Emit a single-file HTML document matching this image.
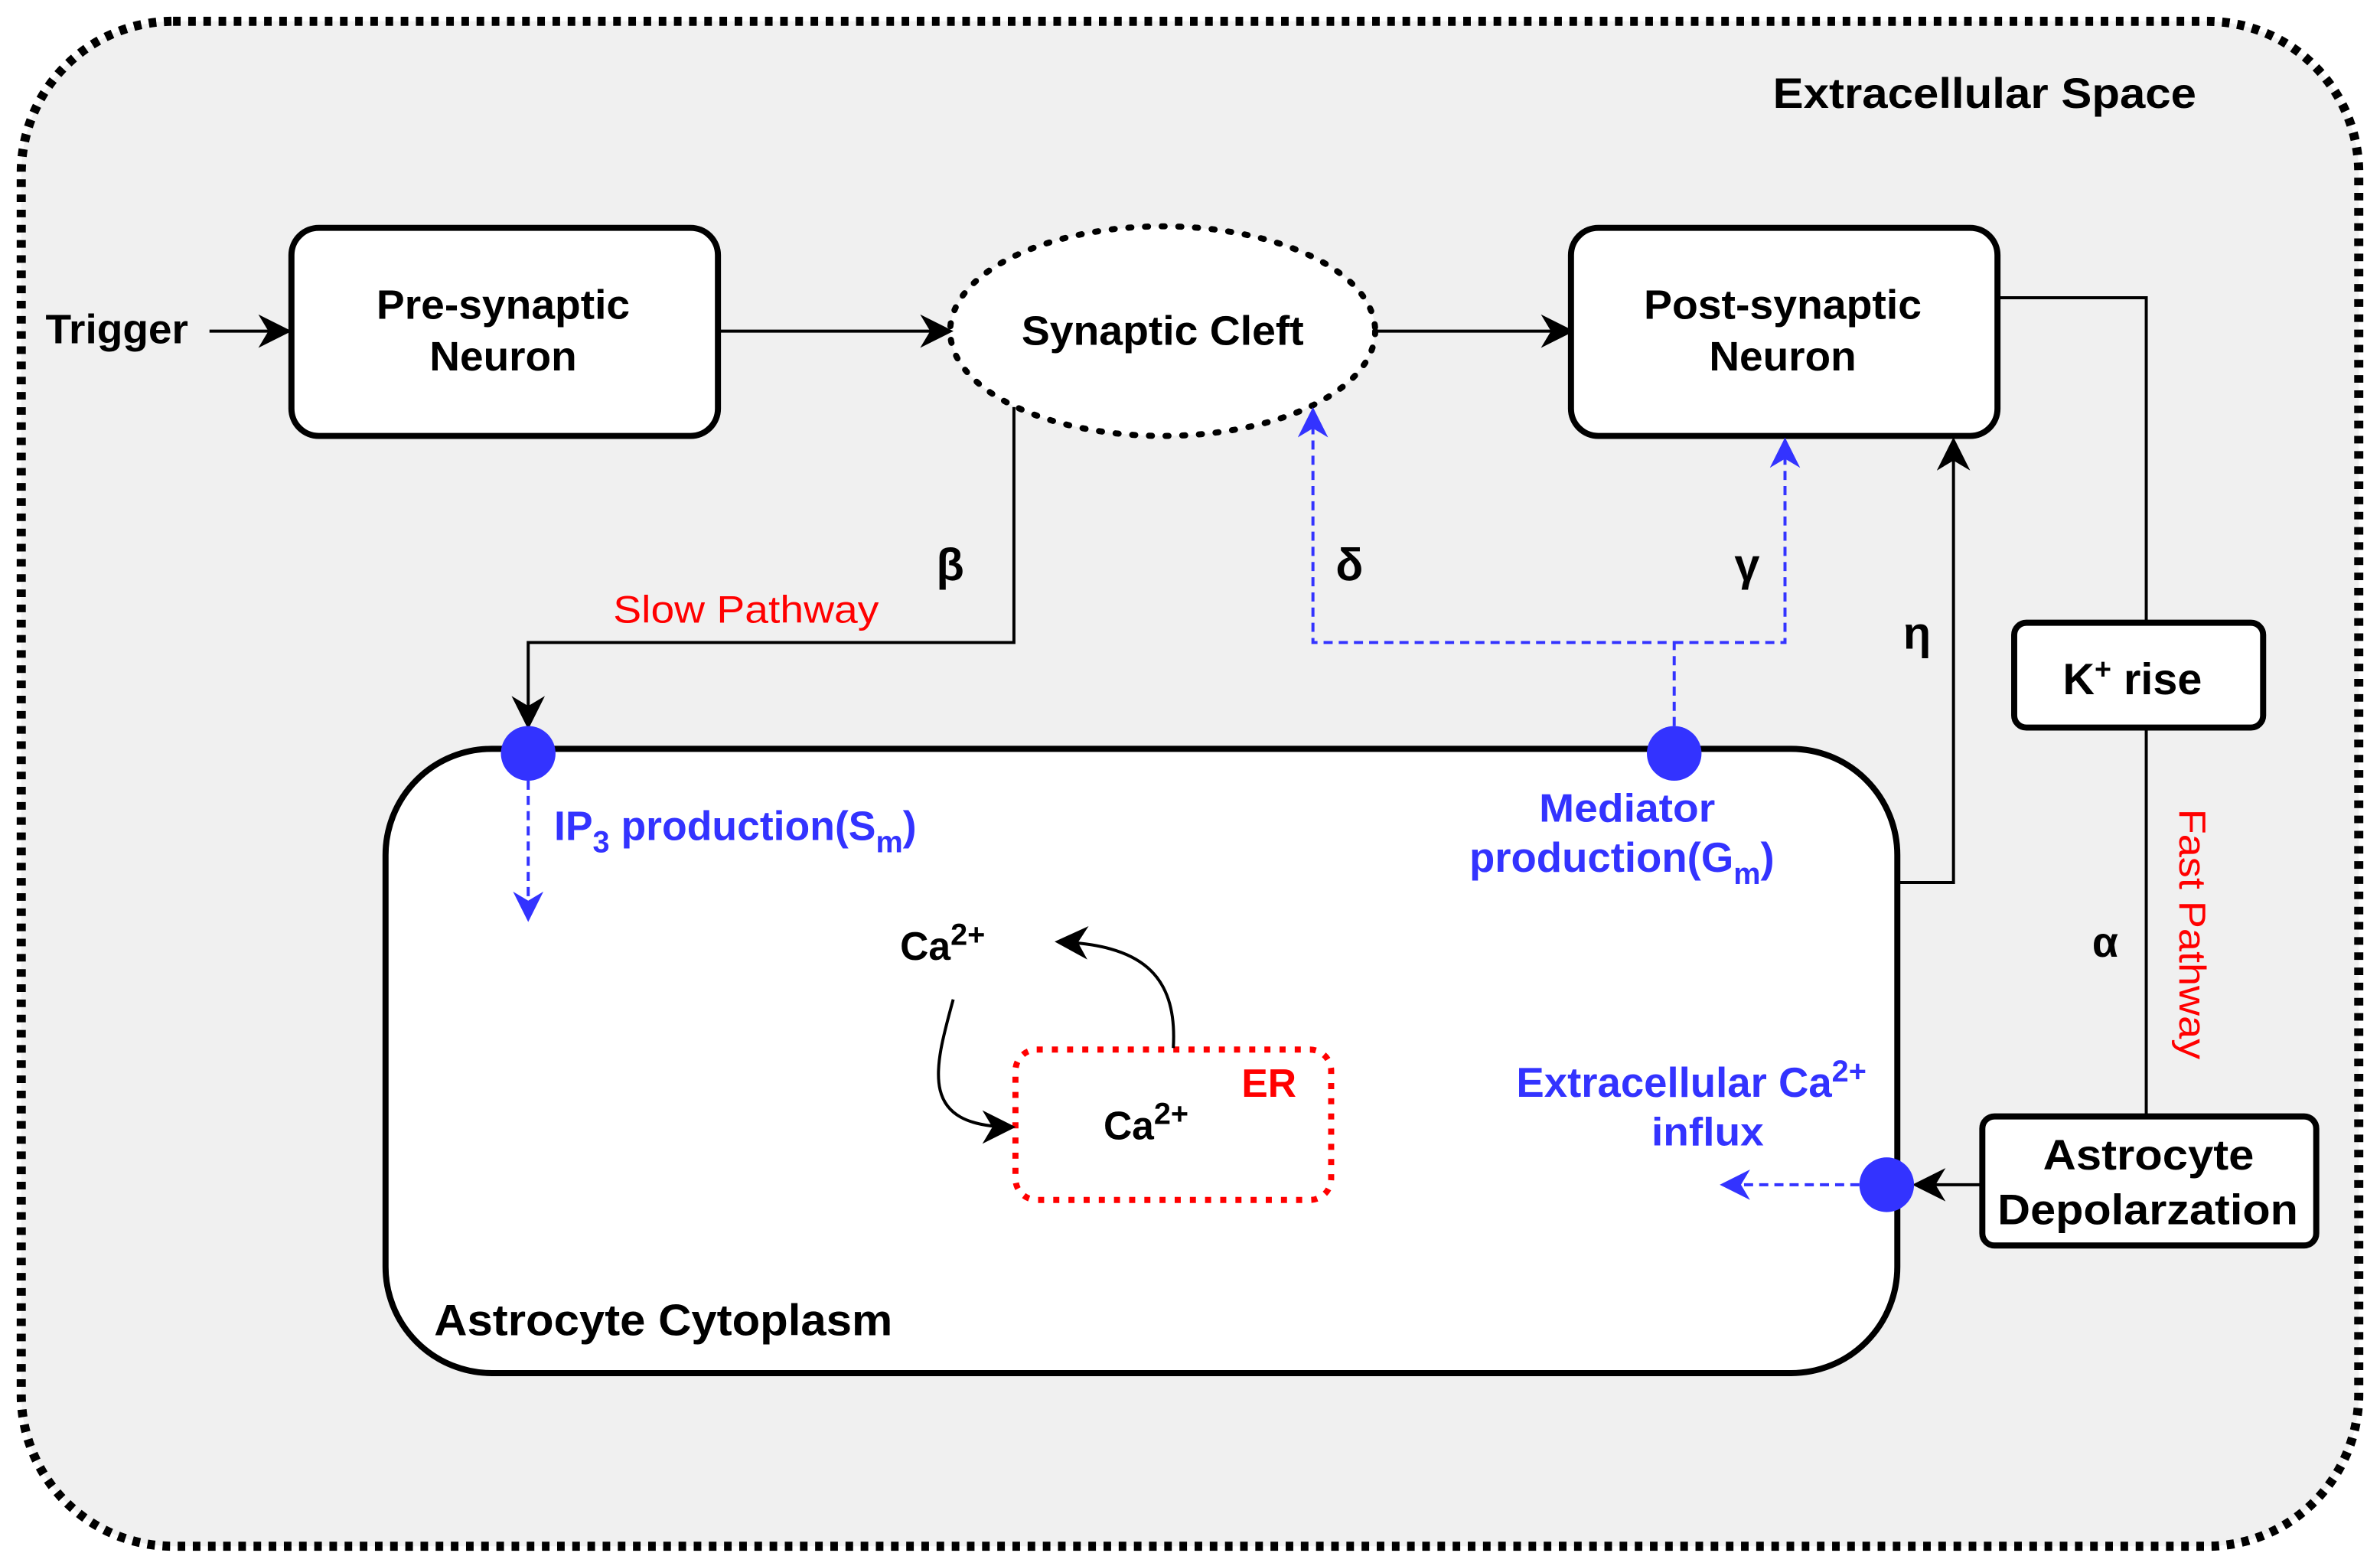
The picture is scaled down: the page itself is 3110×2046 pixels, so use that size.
<!DOCTYPE html>
<html><head><meta charset="utf-8"><style>html,body{margin:0;padding:0;background:#fff}svg{display:block}</style></head>
<body>
<svg width="3110" height="2046" viewBox="0 0 1568 1031" preserveAspectRatio="none" xmlns="http://www.w3.org/2000/svg" font-family="Liberation Sans, sans-serif" font-weight="bold">
<defs>
<marker id="ab2" viewBox="0 0 10 10" refX="9" refY="5" markerWidth="22" markerHeight="22" markerUnits="userSpaceOnUse" orient="auto"><path d="M0,0 L10,5 L0,10 L3,5 z" fill="#000"/></marker>
<marker id="au" viewBox="0 0 10 10" refX="9" refY="5" markerWidth="20" markerHeight="20" markerUnits="userSpaceOnUse" orient="auto"><path d="M0,0 L10,5 L0,10 L3,5 z" fill="#3333ff"/></marker>
</defs>
<rect x="14" y="14" width="1540" height="1004" rx="100" fill="#f0f0f0" stroke="#000" stroke-width="6" stroke-dasharray="5,5"/>
<text x="1168" y="71" font-size="28" textLength="279" lengthAdjust="spacingAndGlyphs">Extracellular Space</text>
<text x="30" y="226" font-size="27" textLength="94" lengthAdjust="spacingAndGlyphs">Trigger</text>
<line x1="138" y1="218" x2="190" y2="218" stroke="#000" stroke-width="2" marker-end="url(#ab2)"/>
<rect x="192" y="150" width="281" height="137" rx="18" fill="#fff" stroke="#000" stroke-width="4"/>
<text x="248" y="210" font-size="27" textLength="167" lengthAdjust="spacingAndGlyphs">Pre-synaptic</text>
<text x="283" y="244" font-size="27" textLength="97" lengthAdjust="spacingAndGlyphs">Neuron</text>
<ellipse cx="766" cy="218" rx="140" ry="69" fill="#fff" stroke="#000" stroke-width="4" stroke-dasharray="2,9" stroke-linecap="round"/>
<text x="673" y="227" font-size="27" textLength="186" lengthAdjust="spacingAndGlyphs">Synaptic Cleft</text>
<line x1="473" y1="218" x2="626" y2="218" stroke="#000" stroke-width="2" marker-end="url(#ab2)"/>
<line x1="906" y1="218" x2="1035" y2="218" stroke="#000" stroke-width="2" marker-end="url(#ab2)"/>
<rect x="1035" y="150" width="281" height="137" rx="18" fill="#fff" stroke="#000" stroke-width="4"/>
<text x="1083" y="210" font-size="27" textLength="183" lengthAdjust="spacingAndGlyphs">Post-synaptic</text>
<text x="1126" y="244" font-size="27" textLength="97" lengthAdjust="spacingAndGlyphs">Neuron</text>
<polyline points="1316,196 1414,196 1414,410" fill="none" stroke="#000" stroke-width="2"/>
<rect x="1327" y="410" width="164" height="69" rx="8" fill="#fff" stroke="#000" stroke-width="4"/>
<text x="1359" y="457" font-size="29">K<tspan dy="-10" font-size="19">+</tspan><tspan dy="10"> rise</tspan></text>
<line x1="1414" y1="479" x2="1414" y2="735" stroke="#000" stroke-width="2"/>
<rect x="1306" y="735" width="220" height="85" rx="8" fill="#fff" stroke="#000" stroke-width="4"/>
<text x="1346" y="770" font-size="28" textLength="139" lengthAdjust="spacingAndGlyphs">Astrocyte</text>
<text x="1316" y="806" font-size="28" textLength="198" lengthAdjust="spacingAndGlyphs">Depolarzation</text>
<text x="1433" y="615" font-size="25" font-weight="normal" fill="#ff0000" text-anchor="middle" transform="rotate(90 1433 615)" dy="-3" textLength="165" lengthAdjust="spacingAndGlyphs">Fast Pathway</text>
<text x="1387" y="630" font-size="28" text-anchor="middle">α</text>
<rect x="254" y="493" width="996" height="411" rx="70" fill="#fff" stroke="#000" stroke-width="4"/>
<text x="286" y="879" font-size="29" textLength="302" lengthAdjust="spacingAndGlyphs">Astrocyte Cytoplasm</text>
<polyline points="668,268 668,423 348,423 348,478" fill="none" stroke="#000" stroke-width="2" marker-end="url(#ab2)"/>
<text x="404" y="410" font-size="25" font-weight="normal" fill="#ff0000" textLength="175" lengthAdjust="spacingAndGlyphs">Slow Pathway</text>
<text x="626" y="382" font-size="30" text-anchor="middle">β</text>
<polyline points="1103,478 1103,423 865,423 865,270" fill="none" stroke="#3333ff" stroke-width="2" stroke-dasharray="6,4" marker-end="url(#au)"/>
<polyline points="1103,423 1176,423 1176,290" fill="none" stroke="#3333ff" stroke-width="2" stroke-dasharray="6,4" marker-end="url(#au)"/>
<text x="889" y="382" font-size="30" text-anchor="middle">δ</text>
<text x="1151" y="382" font-size="30" text-anchor="middle">γ</text>
<polyline points="1250,581 1287,581 1287,290" fill="none" stroke="#000" stroke-width="2" marker-end="url(#ab2)"/>
<text x="1263" y="427" font-size="30" text-anchor="middle">η</text>
<line x1="348" y1="514" x2="348" y2="605" stroke="#3333ff" stroke-width="2" stroke-dasharray="6,4" marker-end="url(#au)"/>
<circle cx="348" cy="496" r="18" fill="#3333ff"/>
<circle cx="1103" cy="496" r="18" fill="#3333ff"/>
<text x="365" y="553" font-size="27" fill="#3333ff">IP<tspan dy="8" font-size="20">3</tspan><tspan dy="-8"> production(S</tspan><tspan dy="8" font-size="20">m</tspan><tspan dy="-8">)</tspan></text>
<text x="1014" y="541" font-size="26" fill="#3333ff" textLength="116" lengthAdjust="spacingAndGlyphs">Mediator</text>
<text x="968" y="574" font-size="27.5" fill="#3333ff">production(G<tspan dy="8" font-size="20">m</tspan><tspan dy="-8">)</tspan></text>
<text x="593" y="632" font-size="26">Ca<tspan dy="-10" font-size="20">2+</tspan></text>
<rect x="669" y="691" width="208" height="99" rx="14" fill="none" stroke="#ff0000" stroke-width="4" stroke-dasharray="4,6"/>
<text x="836" y="722" font-size="26" fill="#ff0000" text-anchor="middle">ER</text>
<text x="727" y="750" font-size="26">Ca<tspan dy="-10" font-size="20">2+</tspan></text>
<path d="M773,690 C776,640 750,622 697,620" fill="none" stroke="#000" stroke-width="2" marker-end="url(#ab2)"/>
<path d="M628,658 C615,705 605,742 667,742" fill="none" stroke="#000" stroke-width="2" marker-end="url(#ab2)"/>
<text x="999" y="722" font-size="27.5" fill="#3333ff">Extracellular Ca<tspan dy="-10" font-size="20">2+</tspan></text>
<text x="1088" y="754" font-size="26" fill="#3333ff" textLength="74" lengthAdjust="spacingAndGlyphs">influx</text>
<line x1="1306" y1="780" x2="1262" y2="780" stroke="#000" stroke-width="2" marker-end="url(#ab2)"/>
<line x1="1225" y1="780" x2="1135" y2="780" stroke="#3333ff" stroke-width="2" stroke-dasharray="6,4" marker-end="url(#au)"/>
<circle cx="1243" cy="780" r="18" fill="#3333ff"/>
</svg>
</body></html>
